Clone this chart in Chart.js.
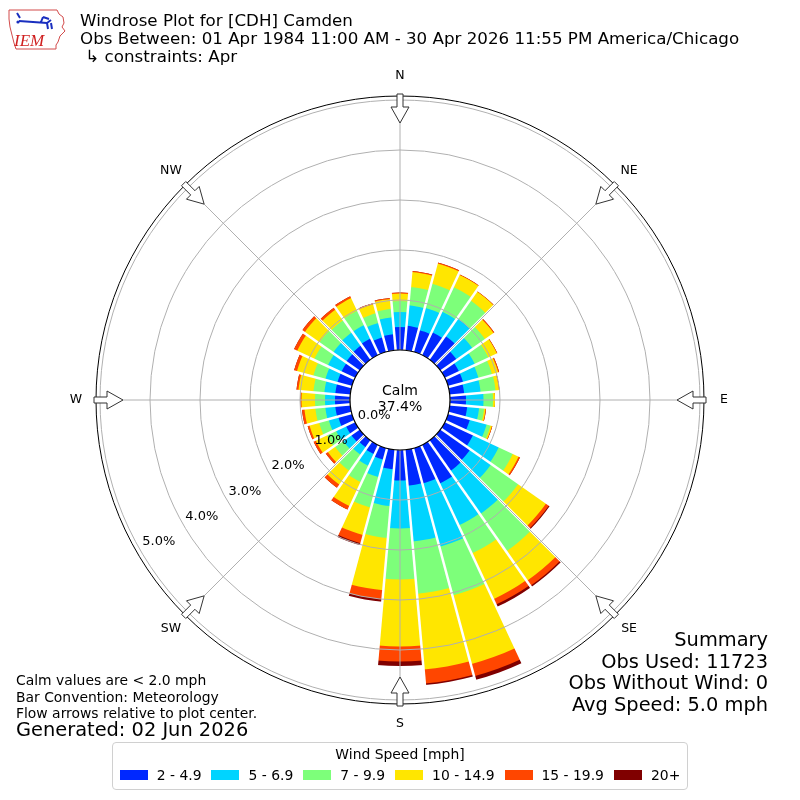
<!DOCTYPE html>
<html>
<head>
<meta charset="utf-8">
<script src="https://cdn.jsdelivr.net/npm/chart.js@4.4.1/dist/chart.umd.min.js"></script>
<style>
  html, body { margin: 0; padding: 0; background: #fff; }
  body { width: 800px; height: 800px; position: relative; overflow: hidden; font-family: "DejaVu Sans", sans-serif; color: #000; }
  #c { position: absolute; left: 0; top: 0; }
  .t { position: absolute; white-space: pre; }
  #legend { position: absolute; left: 112px; top: 742px; width: 576px; height: 48px; box-sizing: border-box;
            border: 1px solid #d0d0d0; border-radius: 4px; background: #fff; }
  #legend .ttl { position: absolute; left: 0; right: 0; top: 2px; text-align: center; font-size: 13.9px; line-height: 18px; }
  #legend .row { position: absolute; left: -20px; right: -20px; top: 23px; height: 18px; display: flex; justify-content: center; align-items: center; font-size: 13.9px; white-space: nowrap; }
  #legend .it { display: flex; align-items: center; margin: 0 5px; flex: 0 0 auto; white-space: nowrap; }
  #legend .sw { width: 28px; height: 10px; margin-right: 9px; flex: 0 0 auto; }
</style>
</head>
<body>
<canvas id="c" width="800" height="800"></canvas>

<svg style="position:absolute;left:7px;top:7px" width="60" height="45" viewBox="0 0 60 45">
  <path d="M2,3 L50,3 L52,7 L56,10 L57,16 L55,20 L58,24 L53,29 L51,35 L49,38 L49,42 L9,42 L7,36 L5,28 L3,20 L2,12 Z" fill="#fff" stroke="#d24a4a" stroke-width="1"/>
  <path d="M10,6 L13,11 M12,14 L40,16 M40,16 L44,13 M34,15 L36,10 M36,10 L42,12 M40,16 L41,22 M44,16 L45,22" stroke="#1a2fbf" stroke-width="2" fill="none"/>
  <circle cx="11" cy="15" r="1.6" fill="#1a2fbf"/>
  <text x="7" y="39" font-family="Liberation Serif, serif" font-style="italic" font-size="17" fill="#d02020">IEM</text>
</svg>

<div class="t" style="left:80px;top:11px;font-size:16.7px;line-height:18px;">Windrose Plot for [CDH] Camden
Obs Between: 01 Apr 1984 11:00 AM - 30 Apr 2026 11:55 PM America/Chicago
 ↳ constraints: Apr</div>

<div class="t" style="left:16px;top:672px;font-size:13.9px;line-height:16.5px;">Calm values are &lt; 2.0 mph
Bar Convention: Meteorology
Flow arrows relative to plot center.</div>
<div class="t" style="left:16px;top:719px;font-size:19.4px;line-height:22px;">Generated: 02 Jun 2026</div>

<div class="t" style="right:32px;top:629px;font-size:19.4px;line-height:21.7px;text-align:right;">Summary
Obs Used: 11723
Obs Without Wind: 0
Avg Speed: 5.0 mph</div>

<div id="legend"><div class="ttl">Wind Speed [mph]</div><div class="row" id="legrow"></div></div>

<script>
// ---- data (percent of observations) ----
const directions = ['0','10','20','30','40','50','60','70','80','90','100','110',
                    '120','130','140','150','160','170','180','190','200','210','220','230',
                    '240','250','260','270','280','290','300','310','320','330','340','350'];
const speedBins = ['2 - 4.9', '5 - 6.9', '7 - 9.9', '10 - 14.9', '15 - 19.9', '20+'];
const binColors = ['#0028ff', '#00d4ff', '#7dff7a', '#ffe600', '#ff4600', '#800000'];

const pct_2_5   = [0.46,0.49,0.45,0.50,0.57,0.39,0.31,0.31,0.29,0.32,0.35,0.45,
                   0.62,0.72,0.74,0.85,0.73,0.72,0.61,0.39,0.24,0.20,0.17,0.20,
                   0.20,0.28,0.30,0.30,0.30,0.30,0.30,0.32,0.34,0.36,0.30,0.32];
const pct_5_7   = [0.30,0.41,0.46,0.46,0.43,0.39,0.35,0.32,0.33,0.35,0.24,0.35,
                   0.57,0.51,1.05,0.92,1.31,1.12,0.96,0.74,0.36,0.26,0.18,0.20,
                   0.22,0.20,0.20,0.20,0.22,0.25,0.30,0.32,0.32,0.30,0.30,0.34];
const pct_7_10  = [0.22,0.37,0.50,0.54,0.44,0.31,0.30,0.28,0.30,0.19,0.10,0.08,
                   0.31,0.67,0.91,0.62,1.01,1.05,1.02,0.64,0.63,0.36,0.39,0.20,
                   0.20,0.20,0.20,0.20,0.22,0.25,0.30,0.34,0.30,0.32,0.20,0.17];
const pct_10_15 = [0.15,0.30,0.42,0.27,0.22,0.21,0.19,0.13,0.07,0.04,0.03,0.03,
                   0.13,0.68,0.72,1.01,1.42,1.52,1.34,1.05,0.57,0.53,0.34,0.18,
                   0.25,0.20,0.22,0.27,0.30,0.34,0.38,0.36,0.26,0.28,0.19,0.20];
const pct_15_20 = [0.02,0.02,0.02,0.01,0.01,0.02,0.01,0.02,0.01,0.00,0.01,0.01,
                   0.03,0.07,0.12,0.12,0.25,0.28,0.30,0.18,0.17,0.08,0.08,0.05,
                   0.05,0.04,0.05,0.02,0.04,0.06,0.07,0.06,0.05,0.04,0.02,0.02];
const pct_20p   = [0,0,0,0,0,0,0,0,0,0,0,0,
                   0,0.02,0.03,0.05,0.08,0.03,0.09,0.05,0.04,0,0,0,
                   0,0,0,0,0,0,0,0,0,0,0,0];

const calmLabel = 'Calm';
const calmPct = '37.4%';
const ringTicks = [0, 1, 2, 3, 4, 5];
const ringLabels = ['0.0%', '1.0%', '2.0%', '3.0%', '4.0%', '5.0%'];
const compassLabels = ['N', 'NE', 'E', 'SE', 'S', 'SW', 'W', 'NW'];

// ---- build stacked (cumulative) datasets ----
const bins = [pct_2_5, pct_5_7, pct_7_10, pct_10_15, pct_15_20, pct_20p];
const cumulative = [];
bins.forEach((arr, k) => {
  cumulative.push(arr.map((v, i) => (k === 0 ? 0 : cumulative[k - 1][i]) + v));
});
const datasets = cumulative.map((arr, k) => ({
  label: speedBins[k],
  data: arr,
  backgroundColor: binColors[k],
  borderWidth: 0
}));

// HTML legend
const legrow = document.getElementById('legrow');
speedBins.forEach((lab, k) => {
  const it = document.createElement('div'); it.className = 'it';
  const sw = document.createElement('div'); sw.className = 'sw'; sw.style.background = binColors[k];
  const tx = document.createElement('span'); tx.textContent = lab;
  it.appendChild(sw); it.appendChild(tx); legrow.appendChild(it);
});

const OUTER = 5.08;
const FONT = '"DejaVu Sans", sans-serif';

const decor = {
  id: 'decor',
  afterDraw(chart) {
    const s = chart.scales.r;
    const ctx = chart.ctx;
    const cx = s.xCenter, cy = s.yCenter;
    const r0 = s.getDistanceFromCenterForValue(0);
    const R = s.drawingArea;
    ctx.save();
    // calm circle
    ctx.beginPath();
    ctx.arc(cx, cy, r0, 0, Math.PI * 2);
    ctx.fillStyle = '#fff';
    ctx.fill();
    ctx.lineWidth = 1.2;
    ctx.strokeStyle = '#000';
    ctx.stroke();
    ctx.fillStyle = '#000';
    ctx.textAlign = 'center';
    ctx.textBaseline = 'middle';
    ctx.font = '14px ' + FONT;
    ctx.fillText(calmLabel, cx, cy - 9);
    ctx.fillText(calmPct, cx, cy + 7);
    // ring labels
    ctx.font = '13px ' + FONT;
    const a = 239.5 * Math.PI / 180;
    ringTicks.forEach((v, i) => {
      const d = s.getDistanceFromCenterForValue(v) - 20;
      ctx.fillText(ringLabels[i], cx + d * Math.sin(a), cy - d * Math.cos(a));
    });
    // compass arrows and labels
    compassLabels.forEach((lab, i) => {
      const b = i * 45 * Math.PI / 180;
      const ux = Math.sin(b), uy = -Math.cos(b);
      const vx = -uy, vy = ux;
      const pts = [[R + 2, -3], [R - 11, -3], [R - 11, -9], [R - 27, 0], [R - 11, 9], [R - 11, 3], [R + 2, 3]];
      ctx.beginPath();
      pts.forEach((p, j) => {
        const x = cx + p[0] * ux + p[1] * vx, y = cy + p[0] * uy + p[1] * vy;
        if (j === 0) ctx.moveTo(x, y); else ctx.lineTo(x, y);
      });
      ctx.closePath();
      ctx.fillStyle = '#fff';
      ctx.fill();
      ctx.lineWidth = 1;
      ctx.strokeStyle = '#333';
      ctx.stroke();
      ctx.fillStyle = '#000';
      ctx.font = '12.5px ' + FONT;
      ctx.fillText(lab, cx + (R + 20) * ux, cy + (R + 20) * uy);
    });
    ctx.restore();
  }
};

new Chart(document.getElementById('c'), {
  type: 'polarArea',
  data: { labels: directions, datasets: datasets },
  options: {
    responsive: false,
    animation: false,
    events: [],
    layout: { padding: { left: 96, right: 96, top: 96, bottom: 96 } },
    plugins: { legend: { display: false }, title: { display: false }, tooltip: { enabled: false } },
    scales: {
      r: {
        type: 'radialLinear',
        min: -1,
        max: OUTER,
        startAngle: -5,
        ticks: { display: false },
        pointLabels: { display: false },
        grid: { display: false, z: 1 },
        angleLines: { display: true, color: '#ffffff', lineWidth: 2.5 }
      },
      r2: {
        type: 'radialLinear',
        axis: 'r',
        labels: compassLabels,
        min: -1,
        max: OUTER,
        startAngle: 0,
        ticks: { display: false },
        afterBuildTicks: (sc) => { sc.ticks = ringTicks.concat([OUTER]).map(v => ({ value: v })); },
        pointLabels: { display: false },
        grid: {
          display: true, circular: true, z: 2,
          color: (c) => (c.tick && c.tick.value > 5.05 ? '#000000' : '#b0b0b0'),
          lineWidth: 1
        },
        angleLines: { display: true, color: '#b0b0b0', lineWidth: 1 }
      }
    }
  },
  plugins: [decor]
});
</script>
</body>
</html>
